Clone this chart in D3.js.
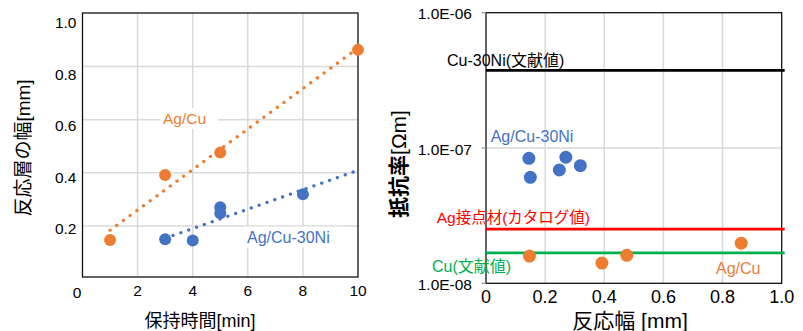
<!DOCTYPE html>
<html>
<head>
  <meta charset="utf-8">
  <title>反応層</title>
  <script src="https://cdn.jsdelivr.net/npm/d3@7"></script>
  <style>
    body { margin: 0; background: #fff; }
    svg text { font-family: "Liberation Sans", Arial, "Noto Sans CJK JP", sans-serif; }
  </style>
</head>
<body>
<div id="vis"></div>
<script>
// datos
var agcuTime = [1, 3, 5, 10];
var agcuWidth = [0.147, 0.392, 0.476, 0.863];
var agcuRes = [1.59e-8, 1.41e-8, 1.61e-8, 1.98e-8];

var nicuTime = [3, 4, 5, 5, 8];
var nicuWidth = [0.150, 0.145, 0.270, 0.248, 0.319];
var nicuRes = [6.07e-8, 8.39e-8, 8.54e-8, 6.88e-8, 7.40e-8];

var leftXTicks = [0, 2, 4, 6, 8, 10];
var leftYTicks = [0.2, 0.4, 0.6, 0.8, 1.0];
var rightXTicks = [0, 0.2, 0.4, 0.6, 0.8, 1.0];
var rightYTicks = [1e-8, 1e-7, 1e-6];

var refNames = ["Cu-30Ni(文献値)", "Ag接点材(カタログ値)", "Cu(文献値)"];
var refValues = [3.75e-7, 2.51e-8, 1.68e-8];

var ORANGE = "#ED7D31", BLUE = "#4472C4", GRID = "#d9d9d9";
var refColors = ["#000000", "#FF0000", "#00B050"];

var svg = d3.select("#vis").append("svg")
  .attr("width", 803)
  .attr("height", 331);

// regresion lineal para la linea de tendencia
function fit(xs, ys) {
  var mx = d3.mean(xs), my = d3.mean(ys);
  var sxy = d3.sum(xs, function(x, i) { return (x - mx) * (ys[i] - my); });
  var sxx = d3.sum(xs, function(x) { return (x - mx) * (x - mx); });
  var b = sxy / sxx;
  return function(x) { return my + b * (x - mx); };
}

function label(g, txt, x, y, color, size, bg, padR) {
  var t = g.append("text")
    .attr("x", x).attr("y", y)
    .attr("fill", color)
    .style("font-size", size + "px")
    .text(txt);
  if (bg) {
    var bb = t.node().getBBox();
    g.insert("rect", function() { return t.node(); })
      .attr("x", bb.x - 3).attr("y", bb.y - 2)
      .attr("width", bb.width + 3 + padR).attr("height", bb.height + 4)
      .attr("fill", "#fff");
  }
  return t;
}

// ---------- izquierda ----------
var xL = d3.scaleLinear().domain([0, 10]).range([82.5, 358]);
var yL = d3.scaleLinear().domain([0, 1]).range([279, 13.5]);
var yLab = d3.scaleLinear().domain([0.2, 1]).range([229, 23]);
var left = svg.append("g");

left.selectAll("line.gx").data(leftXTicks.slice(1, -1)).enter().append("line")
  .attr("x1", function(d) { return xL(d); }).attr("x2", function(d) { return xL(d); })
  .attr("y1", 13).attr("y2", 277)
  .attr("stroke", GRID).attr("stroke-width", 1.5);
left.selectAll("line.gy").data(leftYTicks.slice(0, -1)).enter().append("line")
  .attr("x1", 82.5).attr("x2", 358)
  .attr("y1", function(d) { return yL(d); }).attr("y2", function(d) { return yL(d); })
  .attr("stroke", GRID).attr("stroke-width", 1.5);

left.append("rect")
  .attr("x", 82.5).attr("y", 13).attr("width", 358 - 82.5).attr("height", 277 - 13)
  .attr("fill", "none").attr("stroke", "#111").attr("stroke-width", 1.3);

left.selectAll("text.xt").data(leftXTicks).enter().append("text")
  .attr("x", function(d) { return xL(d) - (d === 0 ? 5.5 : 0); })
  .attr("y", function(d) { return d === 0 ? 298 : 295.5; })
  .attr("text-anchor", "middle")
  .style("font-size", "15.5px")
  .text(function(d) { return d; });
left.selectAll("text.yt").data(leftYTicks).enter().append("text")
  .attr("x", 76.5)
  .attr("y", function(d) { return yLab(d) + 5.4; })
  .attr("text-anchor", "end")
  .style("font-size", "15.5px")
  .text(function(d) { return d.toFixed(1); });

left.append("text")
  .attr("x", 200).attr("y", 326.8)
  .attr("text-anchor", "middle")
  .style("font-size", "18px")
  .text("保持時間[min]");
left.append("text")
  .attr("transform", "translate(30,148) rotate(-90)")
  .attr("text-anchor", "middle")
  .style("font-size", "19px")
  .text("反応層の幅[mm]");

var trend = [
  { xs: agcuTime, ys: agcuWidth, c: ORANGE, from: 1, to: 10 },
  { xs: nicuTime, ys: nicuWidth, c: BLUE, from: 3, to: 10 }
];
trend.forEach(function(t) {
  var f = fit(t.xs, t.ys);
  left.append("line")
    .attr("x1", xL(t.from)).attr("y1", yL(f(t.from)))
    .attr("x2", xL(t.to)).attr("y2", yL(f(t.to)))
    .attr("stroke", t.c).attr("stroke-width", 3.3)
    .attr("stroke-linecap", "round")
    .attr("stroke-dasharray", "0.1 8.2");
});

left.selectAll("circle.ni").data(nicuTime).enter().append("circle")
  .attr("cx", function(d) { return xL(d); })
  .attr("cy", function(d, i) { return yL(nicuWidth[i]); })
  .attr("r", 6).attr("fill", BLUE);
left.selectAll("circle.ag").data(agcuTime).enter().append("circle")
  .attr("cx", function(d) { return xL(d); })
  .attr("cy", function(d, i) { return yL(agcuWidth[i]); })
  .attr("r", 6).attr("fill", ORANGE);

label(left, "Ag/Cu", 163, 124, ORANGE, 15.5, true, 12);
label(left, "Ag/Cu-30Ni", 247, 242.6, BLUE, 16, true, 15);

// ---------- derecha ----------
var xR = d3.scaleLinear().domain([0, 1]).range([486, 781.7]);
var yR = d3.scaleLog().domain([1e-8, 1e-6]).range([283.3, 12.7]);
var right = svg.append("g");

right.selectAll("line.gx").data(rightXTicks.slice(1, -1)).enter().append("line")
  .attr("x1", function(d) { return xR(d); }).attr("x2", function(d) { return xR(d); })
  .attr("y1", yR(1e-6)).attr("y2", yR(1e-8))
  .attr("stroke", GRID).attr("stroke-width", 1.5);
right.selectAll("line.gy").data(rightYTicks.slice(1, -1)).enter().append("line")
  .attr("x1", xR(0)).attr("x2", xR(1))
  .attr("y1", function(d) { return yR(d); }).attr("y2", function(d) { return yR(d); })
  .attr("stroke", GRID).attr("stroke-width", 1.5);

right.append("rect")
  .attr("x", xR(0)).attr("y", yR(1e-6))
  .attr("width", xR(1) - xR(0)).attr("height", yR(1e-8) - yR(1e-6))
  .attr("fill", "none").attr("stroke", "#111").attr("stroke-width", 1.3);

right.selectAll("line.tk").data(rightYTicks).enter().append("line")
  .attr("x1", xR(0) - 4.5).attr("x2", xR(0))
  .attr("y1", function(d) { return yR(d); }).attr("y2", function(d) { return yR(d); })
  .attr("stroke", "#999").attr("stroke-width", 1.3);

function sci(v) {
  var e = Math.round(Math.log10(v));
  var m = v / Math.pow(10, e);
  return m.toFixed(1) + "E" + (e < 0 ? "-" : "+") + d3.format("02d")(Math.abs(e));
}
right.selectAll("text.yt").data(rightYTicks).enter().append("text")
  .attr("x", 472)
  .attr("y", function(d) { return yR(d) + 6.5; })
  .attr("text-anchor", "end")
  .style("font-size", "15.5px")
  .text(sci);
right.selectAll("text.xt").data(rightXTicks).enter().append("text")
  .attr("x", function(d) { return xR(d); })
  .attr("y", 302.5)
  .attr("text-anchor", "middle")
  .style("font-size", "18px")
  .text(function(d) { return d === 0 ? "0" : d.toFixed(1); });

right.append("text")
  .attr("x", 630).attr("y", 328)
  .attr("text-anchor", "middle")
  .style("font-size", "21px")
  .text("反応幅 [mm]");
var yt = right.append("text")
  .attr("transform", "translate(406,164) rotate(-90)")
  .attr("text-anchor", "middle")
  .style("font-size", "21px");
yt.append("tspan").style("font-weight", "bold").text("抵抗率");
yt.append("tspan").text("[Ωm]");

right.selectAll("line.ref").data(refValues).enter().append("line")
  .attr("x1", xR(0)).attr("x2", xR(1) + 3)
  .attr("y1", function(d) { return yR(d); }).attr("y2", function(d) { return yR(d); })
  .attr("stroke", function(d, i) { return refColors[i]; })
  .attr("stroke-width", 2.8);

right.selectAll("circle.ni").data(nicuWidth).enter().append("circle")
  .attr("cx", function(d) { return xR(d); })
  .attr("cy", function(d, i) { return yR(nicuRes[i]); })
  .attr("r", 6.5).attr("fill", BLUE);
right.selectAll("circle.ag").data(agcuWidth).enter().append("circle")
  .attr("cx", function(d) { return xR(d); })
  .attr("cy", function(d, i) { return yR(agcuRes[i]); })
  .attr("r", 6.5).attr("fill", ORANGE);

label(right, refNames[0], 447, 65.6, refColors[0], 16, false, 0);
label(right, refNames[1], 436.7, 223.3, refColors[1], 15.5, false, 0);
label(right, refNames[2], 432, 272.3, refColors[2], 16, false, 0);
label(right, "Ag/Cu-30Ni", 490.7, 142.3, BLUE, 16, false, 0);
label(right, "Ag/Cu", 716, 273.6, ORANGE, 16, false, 0);
</script>
</body>
</html>
